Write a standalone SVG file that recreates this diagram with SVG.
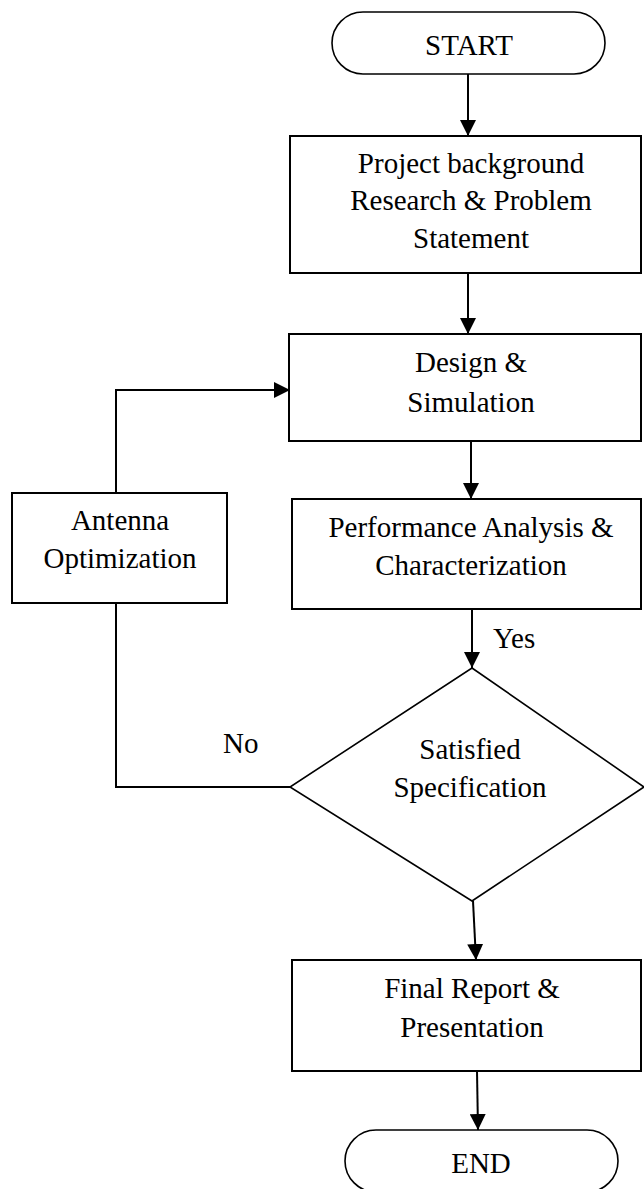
<svg xmlns="http://www.w3.org/2000/svg" width="644" height="1189" viewBox="0 0 644 1189">
<style>
  .shape { fill: #fff; stroke: #000; stroke-width: 2; }
  .term { fill: #fff; stroke: #000; stroke-width: 1.6; }
  .lbl { font-family: "Liberation Serif", "Times New Roman", serif; font-size: 29px; fill: #000; text-anchor: middle; }
  .lbl-l { font-family: "Liberation Serif", "Times New Roman", serif; font-size: 29px; fill: #000; }
  .conn { fill: none; stroke: #000; stroke-width: 2; }
</style>
<defs>
  <marker id="arr" markerWidth="16" markerHeight="16" refX="16" refY="8" orient="auto" markerUnits="userSpaceOnUse">
    <path d="M0,0 L16,8 L0,16 Z" fill="#000"/>
  </marker>
</defs>
<rect width="644" height="1189" fill="#fff"/>

<g id="connectors">
  <line class="conn" x1="468" y1="74" x2="468" y2="136" marker-end="url(#arr)"/>
  <line class="conn" x1="468" y1="273" x2="468" y2="334" marker-end="url(#arr)"/>
  <line class="conn" x1="471" y1="441" x2="471" y2="499" marker-end="url(#arr)"/>
  <line class="conn" x1="472" y1="609" x2="472" y2="668" marker-end="url(#arr)"/>
  <line class="conn" x1="473" y1="901" x2="476" y2="960" marker-end="url(#arr)"/>
  <line class="conn" x1="477" y1="1071" x2="478" y2="1130" marker-end="url(#arr)"/>
  <polyline class="conn" points="290,787 116,787 116,603"/>
  <polyline class="conn" points="116,493 116,390 290,390" marker-end="url(#arr)"/>
  <text class="lbl-l" x="493" y="648">Yes</text>
  <text class="lbl-l" x="223" y="753">No</text>
</g>

<g id="start">
  <rect class="term" x="332" y="12" width="273" height="62" rx="31" ry="31"/>
  <text class="lbl" x="469" y="55">START</text>
</g>

<g id="background">
  <rect class="shape" x="290" y="136" width="351" height="137"/>
  <text class="lbl" x="471" y="173">Project background</text>
  <text class="lbl" x="471" y="210">Research &amp; Problem</text>
  <text class="lbl" x="471" y="248">Statement</text>
</g>

<g id="design">
  <rect class="shape" x="289" y="334" width="352" height="107"/>
  <text class="lbl" x="471" y="372">Design &amp;</text>
  <text class="lbl" x="471" y="412">Simulation</text>
</g>

<g id="performance">
  <rect class="shape" x="292" y="499" width="349" height="110"/>
  <text class="lbl" x="471" y="537">Performance Analysis &amp;</text>
  <text class="lbl" x="471" y="575">Characterization</text>
</g>

<g id="antenna">
  <rect class="shape" x="12" y="493" width="215" height="110"/>
  <text class="lbl" x="120" y="530">Antenna</text>
  <text class="lbl" x="120" y="568">Optimization</text>
</g>

<g id="decision">
  <polygon class="term" points="472,668 644,787 472,901 290,787"/>
  <text class="lbl" x="470" y="759">Satisfied</text>
  <text class="lbl" x="470" y="797">Specification</text>
</g>

<g id="final">
  <rect class="shape" x="292" y="960" width="349" height="111"/>
  <text class="lbl" x="472" y="998">Final Report &amp;</text>
  <text class="lbl" x="472" y="1037">Presentation</text>
</g>

<g id="end">
  <rect class="term" x="345" y="1130" width="273" height="62" rx="31" ry="31"/>
  <text class="lbl" x="481" y="1173">END</text>
</g>
</svg>
